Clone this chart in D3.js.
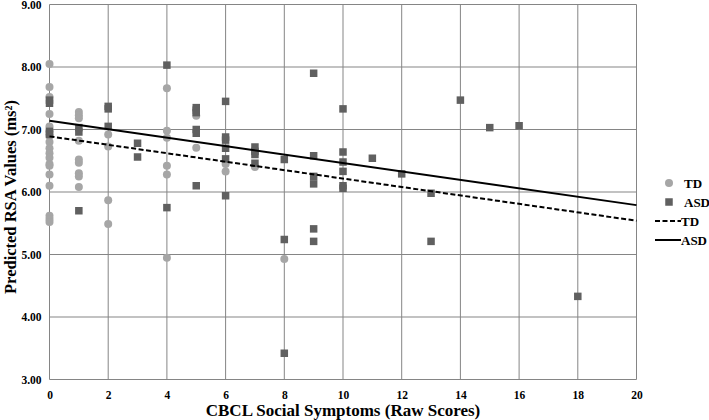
<!DOCTYPE html>
<html>
<head>
<meta charset="utf-8">
<script src="https://cdn.jsdelivr.net/npm/d3@7"></script>
<style>
  html, body { margin: 0; padding: 0; background: #fff; }
  svg { display: block; }
  text { font-family: "Liberation Serif", "Times New Roman", serif; }
</style>
</head>
<body>
<svg id="chart" width="709" height="420"></svg>
<script>
// ---- data ----
const tdScores = [
  0,0,0,0,0,0,0,0,0,0,0,0,0,0,0,0,0,0,
  1,1,1,1,1,1,1,1,1,
  2,2,2,2,
  4,4,4,4,4,4,
  5,5,
  6,6,
  7,
  8
];
const tdRSA = [
  8.05,7.68,7.52,7.25,7.05,6.98,6.90,6.80,6.70,6.62,6.55,6.45,6.42,6.28,6.10,5.62,5.57,5.52,
  7.28,7.23,7.18,6.82,6.52,6.47,6.30,6.25,6.08,
  6.92,6.73,5.87,5.49,
  7.66,6.98,6.87,6.42,6.28,4.95,
  7.22,6.71,
  6.45,6.33,
  6.40,
  4.93
];
const asdScores = [
  0,0,0,0,
  1,1,1,
  2,2,2,
  3,3,
  4,4,
  5,5,5,5,5,5,
  6,6,6,6,6,6,
  7,7,7,7,
  8,8,8,
  9,9,9,9,9,9,
  10,10,10,10,10,10,
  11,12,13,13,14,15,16,18
];
const asdRSA = [
  7.47,7.42,6.97,6.92,
  7.03,6.96,5.70,
  7.37,7.33,7.05,
  6.78,6.56,
  8.03,5.75,
  7.35,7.31,7.27,7.00,6.94,6.10,
  7.45,6.88,6.83,6.70,6.53,5.94,
  6.72,6.65,6.60,6.46,
  6.52,5.24,3.42,
  7.90,6.58,6.25,6.13,5.41,5.21,
  7.33,6.64,6.48,6.33,6.10,6.06,
  6.54,6.29,5.98,5.21,7.47,7.03,7.06,4.33
];
// fitted lines: value at x = 0 and x = 20
const fitX = [0, 20];
const tdFit = [6.89, 5.54];
const asdFit = [7.14, 5.79];

const xTicks = [0,2,4,6,8,10,12,14,16,18,20];
const yTicks = [3,4,5,6,7,8,9];
const legendLabels = ["TD", "ASD", "TD", "ASD"];
const xTitle = "CBCL Social Symptoms (Raw Scores)";
const yTitle = "Predicted RSA Values (ms²)";

// ---- drawing ----
const svg = d3.select("#chart");
const x = d3.scaleLinear().domain([0, 20]).range([49.5, 636.5]);
const y = d3.scaleLinear().domain([3, 9]).range([379.5, 4.5]);

const gridColor = "#858585";
const circColor = "#a6a6a6";
const sqColor = "#606060";

// gridlines
svg.append("g").selectAll("line").data(yTicks).join("line")
  .attr("x1", x(0)).attr("x2", x(20))
  .attr("y1", d => y(d)).attr("y2", d => y(d))
  .attr("stroke", gridColor).attr("stroke-width", 1);
svg.append("g").selectAll("line").data(xTicks).join("line")
  .attr("x1", d => x(d)).attr("x2", d => x(d))
  .attr("y1", y(9)).attr("y2", y(3))
  .attr("stroke", gridColor).attr("stroke-width", 1);

// axes labels via d3 axes (no domain / tick lines)
const xAxis = svg.append("g").attr("transform", `translate(0,${y(3)})`)
  .call(d3.axisBottom(x).tickValues(xTicks).tickFormat(d3.format("d")).tickSize(0).tickPadding(11));
xAxis.select(".domain").remove();
xAxis.selectAll("text").attr("font-family", "Liberation Serif, serif")
  .attr("font-weight", "bold").attr("font-size", 11.5).attr("fill", "#000");

const yAxis = svg.append("g").attr("transform", `translate(${x(0)},0)`)
  .call(d3.axisLeft(y).tickValues(yTicks).tickFormat(d3.format(".2f")).tickSize(0).tickPadding(8));
yAxis.select(".domain").remove();
yAxis.selectAll("text").attr("font-family", "Liberation Serif, serif")
  .attr("font-weight", "bold").attr("font-size", 11.5).attr("fill", "#000");

// TD circles
svg.append("g").selectAll("circle").data(tdScores.map((s, i) => [s, tdRSA[i]])).join("circle")
  .attr("cx", d => x(d[0])).attr("cy", d => y(d[1])).attr("r", 4)
  .attr("fill", circColor);

// ASD squares
const sq = 7.5;
svg.append("g").selectAll("rect").data(asdScores.map((s, i) => [s, asdRSA[i]])).join("rect")
  .attr("x", d => x(d[0]) - sq / 2).attr("y", d => y(d[1]) - sq / 2)
  .attr("width", sq).attr("height", sq)
  .attr("fill", sqColor);

// fit lines
const line = d3.line().x(d => x(d[0])).y(d => y(d[1]));
svg.append("path").datum(fitX.map((v, i) => [v, tdFit[i]]))
  .attr("d", line).attr("fill", "none").attr("stroke", "#000")
  .attr("stroke-width", 2).attr("stroke-dasharray", "5,2.5");
svg.append("path").datum(fitX.map((v, i) => [v, asdFit[i]]))
  .attr("d", line).attr("fill", "none").attr("stroke", "#000")
  .attr("stroke-width", 2);

// axis titles
svg.append("text").attr("x", 343).attr("y", 416).attr("text-anchor", "middle")
  .attr("font-weight", "bold").attr("font-size", 17).text(xTitle);
svg.append("text").attr("transform", "translate(15.5,197) rotate(-90)")
  .attr("text-anchor", "middle").attr("font-weight", "bold").attr("font-size", 16.5).text(yTitle);

// legend
const lg = svg.append("g");
const ly = [183, 202, 221, 240];
lg.append("circle").attr("cx", 669).attr("cy", ly[0]).attr("r", 4).attr("fill", circColor);
lg.append("rect").attr("x", 669 - sq / 2).attr("y", ly[1] - sq / 2).attr("width", sq).attr("height", sq).attr("fill", sqColor);
lg.append("line").attr("x1", 655).attr("x2", 681).attr("y1", ly[2]).attr("y2", ly[2])
  .attr("stroke", "#000").attr("stroke-width", 2).attr("stroke-dasharray", "5,2.5");
lg.append("line").attr("x1", 655).attr("x2", 681).attr("y1", ly[3]).attr("y2", ly[3])
  .attr("stroke", "#000").attr("stroke-width", 2);
lg.selectAll("text.lab").data(legendLabels).join("text").attr("class", "lab")
  .attr("x", (d, i) => i < 2 ? 684 : 681).attr("y", (d, i) => ly[i] + 4.5)
  .attr("font-weight", "bold").attr("font-size", 13).text(d => d);
</script>
</body>
</html>
